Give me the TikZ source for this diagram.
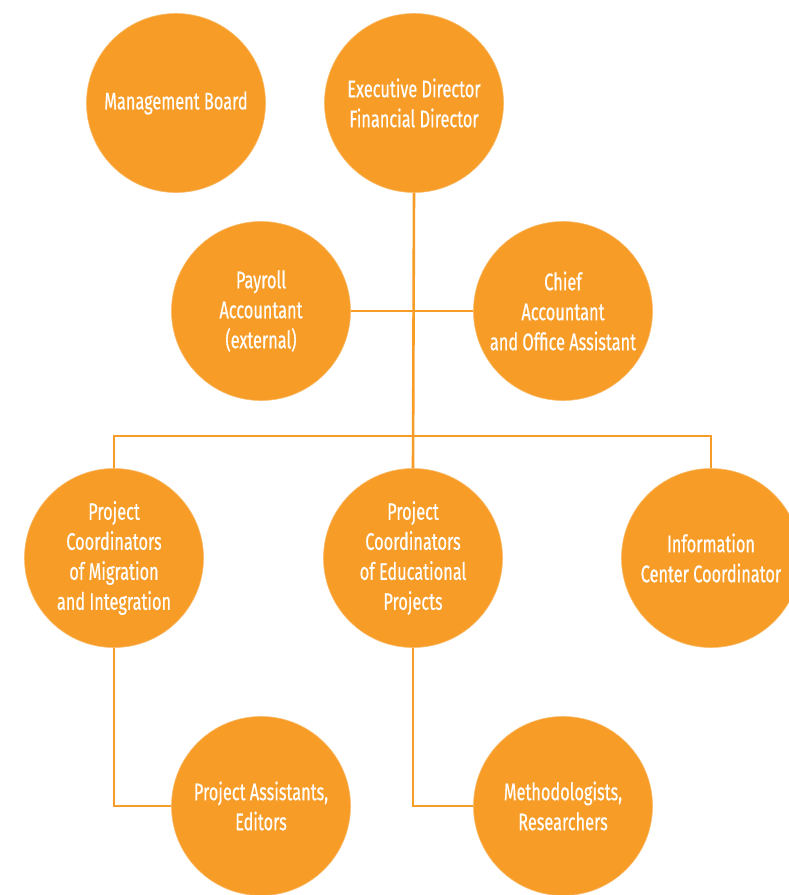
\documentclass[tikz,border=0pt]{standalone}
\usepackage{fontspec}
\setmainfont{Fira Sans}[FakeStretch=0.68, FakeBold=0.5]
\usepackage{tikz}
\usetikzlibrary{positioning, calc}
\definecolor{orgorange}{HTML}{F79C27}

\begin{document}
\begin{tikzpicture}[x=1pt, y=-1pt,
        unit/.style={circle, fill=orgorange, draw=orgorange!70!white, line width=0.6pt,
            minimum size=179pt, inner sep=0pt, text=white, align=center,
            font=\fontsize{24}{30}\selectfont},
        link/.style={draw=orgorange, line width=2.6pt}]
        \useasboundingbox (0,0) rectangle (789,895);
        \clip (0,0) rectangle (789,895);
        % nodes
        \node[unit] (board)   at (176, 103) {Management Board};
        \node[unit] (exec)    at (414, 103) {Executive Director\\Financial Director};
        \node[unit] (payroll) at (261, 311) {Payroll\\Accountant\\(external)};
        \node[unit] (chief)   at (563, 311) {Chief\\Accountant\\and Office Assistant};
        \node[unit] (migr)    at (114, 558) {Project\\Coordinators\\of Migration\\and Integration};
        \node[unit] (educ)    at (413, 558) {Project\\Coordinators\\of Educational\\Projects};
        \node[unit] (info)    at (711, 558) {Information\\Center Coordinator};
        \node[unit] (assist)  at (261, 806) {Project Assistants,\\Editors};
        \node[unit] (method)  at (563, 806) {Methodologists,\\Researchers};
        \coordinate (bus) at (413, 436);
        % lines
        \path[link] (payroll.east) -- (chief.west);
        \path[link] (exec.south) -- (educ.north);
        \path[link] (migr.north) -- (migr.north |- bus) -- (info.north |- bus) -- (info.north);
        \path[link] (migr.south) |- (assist.west);
        \path[link] (educ.south) |- (method.west);
\end{tikzpicture}
\end{document}
